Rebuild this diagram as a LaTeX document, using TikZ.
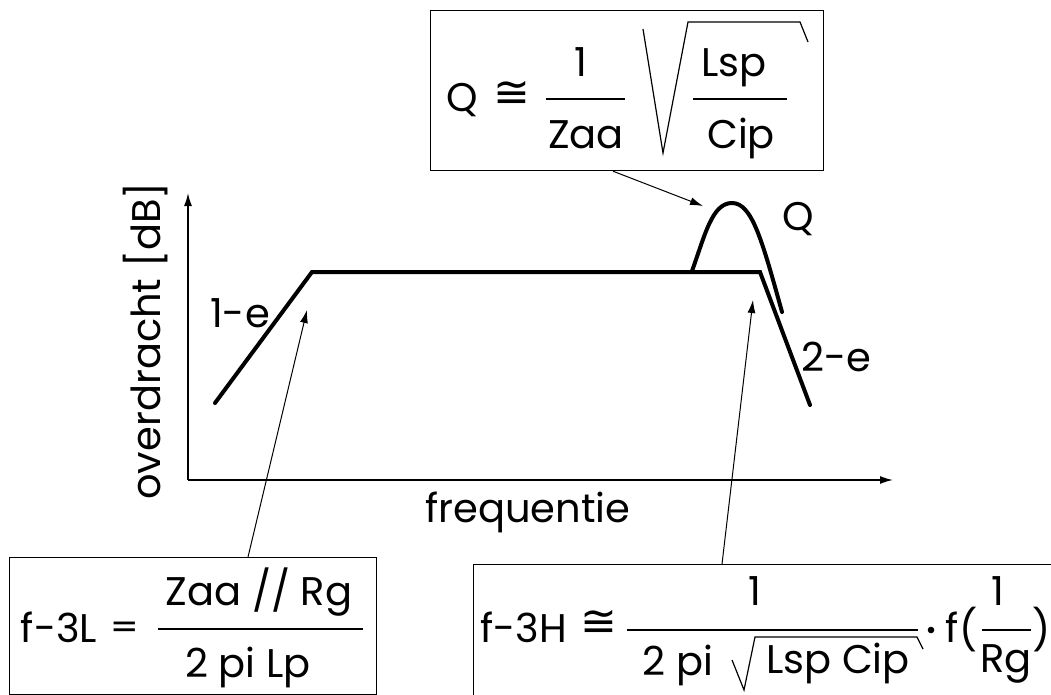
\documentclass[tikz,border=0pt]{standalone}
\usepackage{fontspec}
\setmainfont{Poppins}
\newfontfamily\symfont{DejaVu Sans}
\usetikzlibrary{arrows.meta}
\newcommand{\bigfs}{\fontsize{40}{48}\selectfont}
\newcommand{\symfs}{\fontsize{34}{42}\selectfont\symfont}
\newcommand{\congfs}{\fontsize{44}{52}\selectfont\symfont}
\tikzset{
  txt/.style={inner sep=0pt, font=\bigfs, anchor=base},
  sym/.style={inner sep=0pt, font=\symfs},
  congsym/.style={inner sep=0pt, font=\congfs},
  box/.style={draw, line width=1.2pt, inner sep=0pt},
  curve/.style={line width=4pt, line cap=round, line join=miter},
  axis/.style={line width=1.5pt, -{Latex[length=13pt,width=8pt]}},
  arr/.style={line width=1pt, -{Latex[length=13pt,width=8pt]}},
  thin/.style={line width=1.2pt},
}
\begin{document}
\begin{tikzpicture}[x=1pt,y=-1pt]
\useasboundingbox (0,0) rectangle (1051,695);
\fill[white] (0,0) rectangle (1051,695);
\clip (0,0) rectangle (1051,695);

% axes
\coordinate (o) at (188,480);
\coordinate (ytip) at (188,193);
\coordinate (xtip) at (893,480);
\draw[axis] (o) -- (ytip);
\draw[axis] (o) -- (xtip);
\node[txt, rotate=90, anchor=base] (ylab) at (160,341) {overdracht [dB]};
\node[txt] (xlab) at (528,522) {frequentie};

% response curve
\coordinate (c1) at (215,403);
\coordinate (c2) at (312,272);
\coordinate (c3) at (760,272);
\coordinate (c4) at (810,405);
\draw[curve] (c1) -- (c2) -- (c3) -- (c4);
\coordinate (p0) at (692,271);
\coordinate (pk) at (732,203);
\coordinate (p1) at (782,312);
\draw[curve] (p0) .. controls (705,235) and (712,203) .. (pk)
  .. controls (752,203) and (762,240) .. (p1);
\node[txt] (le1) at (240,327) {1-e};
\node[txt] (le2) at (836,371) {2-e};
\node[txt] (lq) at (798,230) {Q};

% Q box
\node[box, minimum width=393pt, minimum height=160pt, anchor=north west] (qbox) at (430,10) {};
\node[txt] (qq) at (462,112) {Q};
\node[congsym] (qcong) at (512,94) {≅};
\coordinate (qf1a) at (546,99); \coordinate (qf1b) at (625,99);
\draw[thin] (qf1a) -- (qf1b);
\node[txt] (q1) at (581,77) {1};
\node[txt] (qzaa) at (586,149) {Zaa};
\coordinate (qs1) at (643,29); \coordinate (qs2) at (663,153);
\coordinate (qs3) at (688,22); \coordinate (qs4) at (800,22); \coordinate (qs5) at (808,42);
\draw[thin] (qs1) -- (qs2) -- (qs3) -- (qs4) -- (qs5);
\coordinate (qf2a) at (693,99); \coordinate (qf2b) at (787,99);
\draw[thin] (qf2a) -- (qf2b);
\node[txt] (qlsp) at (734,77) {Lsp};
\node[txt] (qcip) at (741,149) {Cip};

% f-3L box
\node[box, minimum width=367pt, minimum height=137pt, anchor=north west] (lbox) at (9,557) {};
\node[txt] (lf) at (59,642) {f-3L};
\node[sym] (leq) at (125,630) {=};
\coordinate (lfa) at (158,629); \coordinate (lfb) at (363,629);
\draw[thin] (lfa) -- (lfb);
\node[txt] (lnum) at (259,605) {Zaa // Rg};
\node[txt] (lden) at (248,677) {2 pi Lp};

% f-3H box
\node[box, minimum width=600pt, minimum height=150pt, anchor=north west] (hbox) at (473,564) {};
\node[txt] (hf) at (524,642) {f-3H};
\node[congsym] (hcong) at (599,623) {≅};
\coordinate (hfa) at (627,630); \coordinate (hfb) at (918,630);
\draw[thin] (hfa) -- (hfb);
\node[txt] (h1) at (755,605) {1};
\node[txt] (h2pi) at (678,675) {2 pi};
\coordinate (hs1) at (732,660); \coordinate (hs2) at (744,690);
\coordinate (hs3) at (755,637); \coordinate (hs4) at (917,637); \coordinate (hs5) at (923,649);
\draw[thin] (hs1) -- (hs2) -- (hs3) -- (hs4) -- (hs5);
\node[txt] (hlc) at (838,673) {Lsp Cip};
\fill (931,630) circle (3.3pt);
\node[txt] (hff) at (952,642) {f};
\node[inner sep=0pt, font=\bigfs] (hlp) at (969,630) {(};
\coordinate (hga) at (982,630); \coordinate (hgb) at (1031,630);
\draw[thin] (hga) -- (hgb);
\node[txt] (hg1) at (998,605) {1};
\node[txt] (hrg) at (1006,672) {Rg};
\node[inner sep=0pt, font=\bigfs] (hrp) at (1042,630) {)};

% annotation arrows
\coordinate (qtip) at (703,206);
\coordinate (ltip) at (307,310);
\coordinate (htip) at (753,300);
\draw[arr] (qbox.south -| 613,0) -- (qtip);
\draw[arr] (lbox.north -| 248,0) -- (ltip);
\draw[arr] (hbox.north -| 722,0) -- (htip);
\end{tikzpicture}
\end{document}
